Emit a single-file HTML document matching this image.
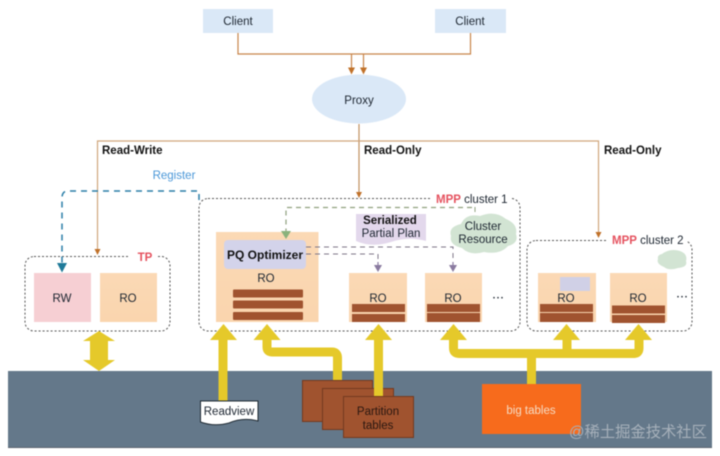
<!DOCTYPE html>
<html><head><meta charset="utf-8">
<style>
html,body{margin:0;padding:0;background:#fff;width:720px;height:456px;overflow:hidden}
svg{display:block;filter:blur(.4px)}
text{font-family:"Liberation Sans","Noto Sans CJK SC",sans-serif;font-size:11.5px;fill:#1c2530;text-anchor:middle}
.b{font-weight:bold;fill:#111}
.l{text-anchor:start}
</style></head><body>
<svg width="720" height="456" viewBox="0 0 720 456" xmlns="http://www.w3.org/2000/svg">
<defs>
<linearGradient id="or" x1="0" y1="0" x2="0" y2="1"><stop offset="0" stop-color="#fbd9b5"/><stop offset="1" stop-color="#fad5ae"/></linearGradient>
</defs>
<!-- ground -->
<rect x="8" y="371" width="704" height="77" fill="#64788a"/>
<rect x="8" y="447" width="704" height="1" fill="#58626d"/>
<!-- clients/proxy -->
<rect x="203" y="9" width="70" height="24" fill="#dae8f7"/>
<rect x="435" y="9" width="71" height="24" fill="#dae8f7"/>
<text x="238" y="25">Client</text>
<text x="470" y="25">Client</text>
<ellipse cx="359" cy="99" rx="47" ry="24.500" fill="#dae8f7"/>
<text x="359" y="104">Proxy</text>
<!-- dashed boxes -->
<g fill="#fff" stroke="#555" stroke-width="1" stroke-dasharray="2 2">
<rect x="25" y="256.500" width="145" height="74.500" rx="9"/>
<rect x="199" y="198.500" width="321" height="132.500" rx="9"/>
<rect x="527" y="240.500" width="165" height="90.500" rx="9"/>
</g>
<rect x="130" y="250" width="26" height="14" fill="#fff"/>
<rect x="431" y="192" width="81" height="14" fill="#fff"/>
<rect x="606" y="234" width="81" height="14" fill="#fff"/>
<!-- client connectors -->
<g fill="none" stroke="#c8854a" stroke-width="1.200">
<path d="M238 33V54H470.500V33"/>
<path d="M351.500 54V68M363.500 54V68"/>
<path d="M359 124V192" stroke="#c0915f"/>
<path d="M97.500 250V141H598.500V232" stroke="#d0a67c"/>
</g>
<g fill="#c0712a">
<path d="M348 67.500h7l-3.500 7z"/><path d="M360 67.500h7l-3.500 7z"/>
<path d="M356 192h6l-3 6z"/><path d="M94.500 249h6l-3 6z"/><path d="M595.500 232h6l-3 6z"/>
</g>
<text class="b l" x="102" y="154">Read-Write</text>
<text class="b l" x="364" y="154">Read-Only</text>
<text class="b l" x="604" y="154">Read-Only</text>
<text x="174" y="179" style="fill:#4a97d8">Register</text>
<text class="b" x="145" y="261" style="fill:#e5525f">TP</text>
<text class="l" x="436" y="203"><tspan style="fill:#e5525f;font-weight:bold">MPP</tspan> cluster 1</text>
<text class="l" x="612" y="244"><tspan style="fill:#e5525f;font-weight:bold">MPP</tspan> cluster 2</text>
<!-- TP nodes -->
<rect x="34" y="273" width="57" height="49" fill="#f6cfd3"/>
<rect x="100" y="273" width="57" height="49" fill="url(#or)"/>
<text x="62" y="302">RW</text>
<text x="128" y="302">RO</text>
<!-- register dashed -->
<path d="M199 200V191H68Q62 191 62 198V264" fill="none" stroke="#2a7ea8" stroke-width="1.500" stroke-dasharray="6 5"/>
<path d="M57 263h10l-5 9.500z" fill="#1f7a99"/>
<!-- big RO -->
<rect x="216" y="232" width="102.500" height="90" fill="url(#or)"/>
<rect x="224" y="240" width="82" height="29" rx="4" fill="#d3d3ea"/>
<text class="b" x="265" y="259" style="font-size:12px">PQ Optimizer</text>
<text x="266" y="282">RO</text>
<g fill="#a0532f">
<rect x="233" y="289.500" width="70" height="8" rx="1"/>
<rect x="233" y="300.500" width="70" height="8" rx="1"/>
<rect x="233" y="312" width="70" height="8" rx="1"/>
</g>
<!-- serialized -->
<path d="M356 214H426V241Q408 236 391 242Q372 248 356 241Z" fill="#e3d8ec"/>
<text class="b" x="390" y="224">Serialized</text>
<text x="391" y="237">Partial Plan</text>
<!-- cloud -->
<path d="M461 224Q466 213 480 216Q495 210 506 219Q518 224 516 234Q519 243 508 246Q500 255 484 252Q470 256 462 248Q449 245 451 236Q448 227 461 224Z" fill="#d2e4d3"/>
<text x="483" y="230">Cluster</text>
<text x="483" y="243">Resource</text>
<!-- green dashed -->
<path d="M472 207.500H286V232" fill="none" stroke="#8fa07e" stroke-width="1.200" stroke-dasharray="5 4"/>
<path d="M475 207V212" stroke="#8fa07e" stroke-width="1"/>
<path d="M281 231h10l-5 8z" fill="#8ab27c"/>
<!-- purple dashed -->
<path d="M306 247H453V262M306 254H378V262" fill="none" stroke="#7d7688" stroke-width="1" stroke-dasharray="5 4"/>
<path d="M378 262V266M453 262V266" stroke="#8a7ba0" stroke-width="1.200"/>
<path d="M374 265h8l-4 7z" fill="#8a7ba0"/><path d="M449 265h8l-4 7z" fill="#8a7ba0"/>
<!-- RO nodes -->
<g fill="url(#or)">
<rect x="349" y="273" width="58" height="49"/>
<rect x="425" y="273" width="57" height="49"/>
<rect x="538" y="273" width="58" height="49"/>
<rect x="610" y="273" width="57" height="49"/>
</g>
<text x="378" y="302">RO</text>
<text x="453" y="302">RO</text>
<text x="566" y="302">RO</text>
<text x="638" y="302">RO</text>
<g fill="#a0532f">
<rect x="352" y="304" width="53" height="8"/><rect x="352" y="314" width="53" height="8"/>
<rect x="427" y="304" width="53" height="8"/><rect x="427" y="313" width="53" height="9"/>
<rect x="540" y="304" width="53" height="8"/><rect x="540" y="313" width="53" height="9"/>
<rect x="612" y="305.500" width="53" height="8"/><rect x="612" y="315" width="53" height="8"/>
</g>
<rect x="560" y="277" width="30" height="14" fill="#d0d0e6"/>
<path d="M662 254Q670 248 680 251Q688 254 686 261Q688 267 678 268Q669 271 664 267Q656 264 658 259Q657 255 662 254Z" fill="#d2e4d3"/>
<text x="498" y="302" style="font-size:12px">⋯</text>
<text x="682" y="301" style="font-size:12px">⋯</text>
<!-- yellow arrows -->
<g fill="none" stroke="#e5c92a" stroke-width="9">
<path d="M223 338V401"/>
<path d="M267 338V347Q267 352 272 352H332Q337.500 352 337.500 358V381"/>
<path d="M453.500 338V348Q453.500 353.500 459 353.500H634Q639 353.500 639 348V338"/>
<path d="M567 338V353M531.500 353V384"/>
</g>
<g fill="#e5c92a">
<path d="M223.500 324L237 340H210Z"/>
<path d="M267 324L280.500 340H253.500Z"/>
<path d="M378.500 324L392 340H365Z"/>
<path d="M453.500 324L467 340H440Z"/>
<path d="M566.500 324L580 340H553Z"/>
<path d="M638.500 324L652 340H625Z"/>
<path d="M99 331L115 341H108V360H115L99 371L83 360H90V341H83Z"/>
</g>
<!-- readview -->
<path d="M200.500 401H258V421Q243 417 229 423Q214 427 200.500 422Z" fill="#fff" stroke="#1f2a33" stroke-width="1"/>
<text x="229" y="415">Readview</text>
<!-- tables -->
<g fill="#a0532f" stroke="#73391f" stroke-width="1">
<rect x="302.500" y="380.500" width="70" height="41"/>
<rect x="322.500" y="388.500" width="71" height="41"/>
<rect x="343.500" y="396.500" width="70" height="41"/>
</g>
<path d="M378.500 338V396" stroke="#e5c92a" stroke-width="9"/>
<text x="378" y="415" style="fill:#2a1710">Partition</text>
<text x="378" y="429" style="fill:#2a1710">tables</text>
<!-- big tables -->
<rect x="482" y="384" width="99" height="50" fill="#f76b1c"/>
<text x="531" y="414" style="fill:#f6dcc4">big tables</text>
<!-- watermark -->
<text class="l" x="569" y="437" style="font-size:15.300px;fill:#a6b0ba">@稀土掘金技术社区</text>
</svg>
</body></html>
